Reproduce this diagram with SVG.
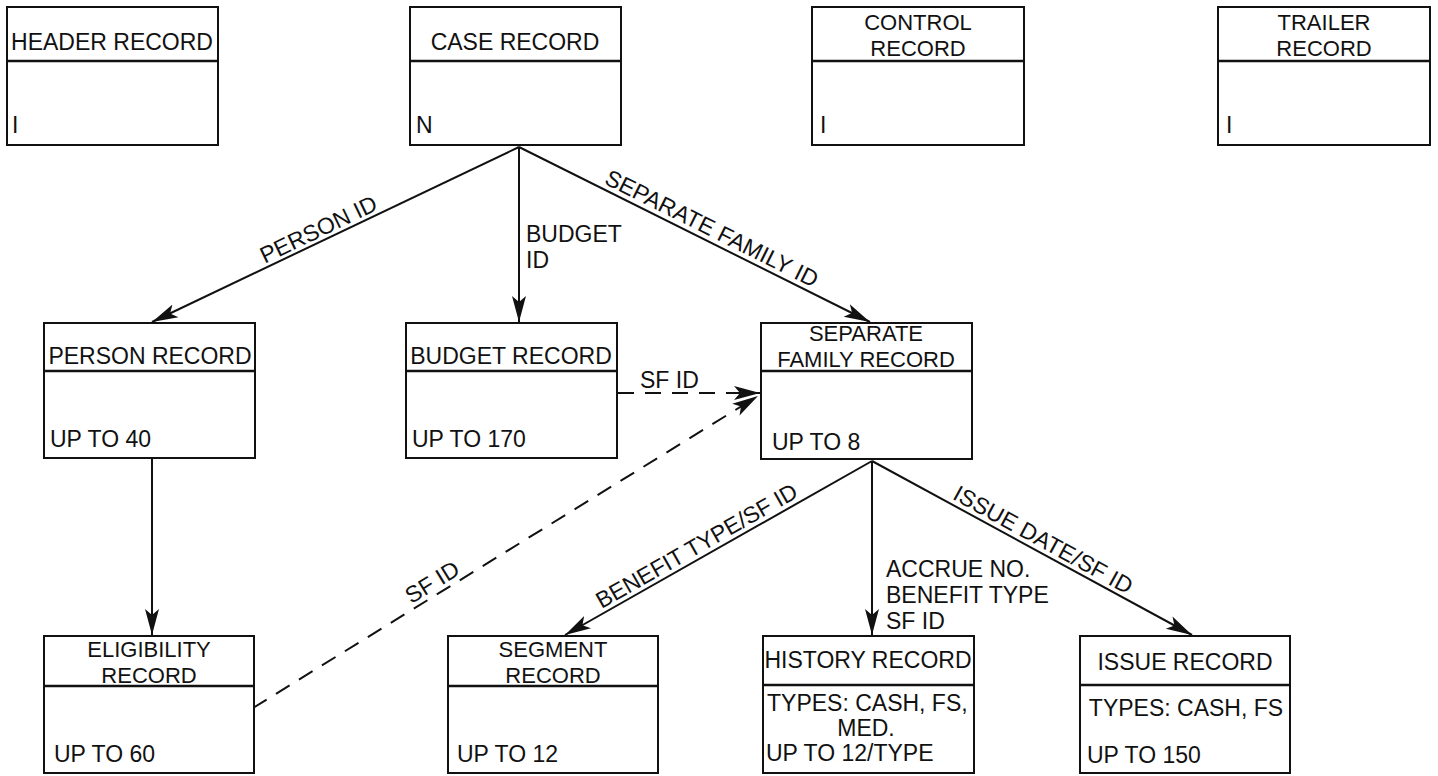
<svg xmlns="http://www.w3.org/2000/svg" width="1438" height="776" viewBox="0 0 1438 776">
<style>
  .box{fill:#fff;stroke:#111;stroke-width:2}
  .div{stroke:#111;stroke-width:2.5}
  text{font-family:"Liberation Sans",Arial,sans-serif;font-size:23px;fill:#111}
  .c{text-anchor:middle}
  .t2{font-size:22px}
  .ln{stroke:#111;stroke-width:2;fill:none}
  .dash{stroke:#111;stroke-width:2;fill:none;stroke-dasharray:16 11}
</style>
<defs>
  <marker id="ah" markerUnits="userSpaceOnUse" markerWidth="28" markerHeight="16" refX="26" refY="8" orient="auto">
    <path d="M0,1 L26,8 L0,15 L6,8 z" fill="#111"/>
  </marker>
</defs>
<rect width="1438" height="776" fill="#fff"/>

<g id="connectors">
  <line class="ln" x1="519" y1="147" x2="152" y2="322" marker-end="url(#ah)"/>
  <line class="ln" x1="519" y1="147" x2="519" y2="322" marker-end="url(#ah)"/>
  <line class="ln" x1="519" y1="147" x2="870" y2="322" marker-end="url(#ah)"/>
  <line class="ln" x1="152" y1="459" x2="152" y2="635" marker-end="url(#ah)"/>
  <line class="dash" x1="618" y1="393" x2="760" y2="393" marker-end="url(#ah)"/>
  <line class="dash" x1="253" y1="708" x2="758" y2="396" marker-end="url(#ah)"/>
  <line class="ln" x1="872" y1="461" x2="565" y2="635" marker-end="url(#ah)"/>
  <line class="ln" x1="872" y1="461" x2="872" y2="635" marker-end="url(#ah)"/>
  <line class="ln" x1="872" y1="461" x2="1192" y2="635" marker-end="url(#ah)"/>
  <text transform="translate(324,241) rotate(-25.6)" class="c" y="-5">PERSON ID</text>
  <text x="526" y="242">BUDGET</text>
  <text x="526" y="268">ID</text>
  <text transform="translate(706,240) rotate(26.5)" class="c" y="-5">SEPARATE FAMILY ID</text>
  <text x="640" y="388">SF ID</text>
  <text transform="translate(439,593) rotate(-31.7)" class="c" y="-5">SF ID</text>
  <text transform="translate(703,557) rotate(-29.7)" class="c" y="-5">BENEFIT TYPE/SF ID</text>
  <text transform="translate(1037,551) rotate(28.7)" class="c" y="-5">ISSUE DATE/SF ID</text>
  <text x="886" y="577">ACCRUE NO.</text>
  <text x="886" y="603">BENEFIT TYPE</text>
  <text x="886" y="629">SF ID</text>
</g>

<g id="header">
  <rect class="box" x="7" y="7" width="211" height="138"/>
  <line class="div" x1="7" y1="61" x2="218" y2="61"/>
  <text class="c" x="112" y="50">HEADER RECORD</text>
  <text x="12" y="133">I</text>
</g>
<g id="case">
  <rect class="box" x="410" y="7" width="211" height="138"/>
  <line class="div" x1="410" y1="61" x2="621" y2="61"/>
  <text class="c" x="515" y="50">CASE RECORD</text>
  <text x="416" y="133">N</text>
</g>
<g id="control">
  <rect class="box" x="812" y="7" width="212" height="138"/>
  <line class="div" x1="812" y1="61" x2="1024" y2="61"/>
  <text class="c t2" x="918" y="30">CONTROL</text>
  <text class="c t2" x="918" y="56">RECORD</text>
  <text x="820" y="133">I</text>
</g>
<g id="trailer">
  <rect class="box" x="1218" y="7" width="212" height="138"/>
  <line class="div" x1="1218" y1="61" x2="1430" y2="61"/>
  <text class="c t2" x="1324" y="30">TRAILER</text>
  <text class="c t2" x="1324" y="56">RECORD</text>
  <text x="1226" y="133">I</text>
</g>

<g id="person">
  <rect class="box" x="44" y="323" width="211" height="135"/>
  <line class="div" x1="44" y1="371" x2="255" y2="371"/>
  <text class="c" x="150" y="364">PERSON RECORD</text>
  <text x="50" y="447">UP TO 40</text>
</g>
<g id="budget">
  <rect class="box" x="406" y="323" width="211" height="135"/>
  <line class="div" x1="406" y1="371" x2="617" y2="371"/>
  <text class="c" x="511" y="364">BUDGET RECORD</text>
  <text x="412" y="447">UP TO 170</text>
</g>
<g id="separate-family">
  <rect class="box" x="761" y="323" width="211" height="136"/>
  <line class="div" x1="761" y1="371" x2="972" y2="371"/>
  <text class="c t2" x="866" y="341">SEPARATE</text>
  <text class="c t2" x="866" y="367">FAMILY RECORD</text>
  <text x="772" y="450">UP TO 8</text>
</g>

<g id="eligibility">
  <rect class="box" x="44" y="636" width="210" height="137"/>
  <line class="div" x1="44" y1="686" x2="254" y2="686"/>
  <text class="c t2" x="149" y="657">ELIGIBILITY</text>
  <text class="c t2" x="149" y="683">RECORD</text>
  <text x="54" y="762">UP TO 60</text>
</g>
<g id="segment">
  <rect class="box" x="448" y="636" width="210" height="137"/>
  <line class="div" x1="448" y1="686" x2="658" y2="686"/>
  <text class="c t2" x="553" y="657">SEGMENT</text>
  <text class="c t2" x="553" y="683">RECORD</text>
  <text x="457" y="762">UP TO 12</text>
</g>
<g id="history">
  <rect class="box" x="763" y="636" width="211" height="137"/>
  <line class="div" x1="763" y1="685" x2="974" y2="685"/>
  <text class="c" x="868" y="668">HISTORY RECORD</text>
  <text x="767" y="711">TYPES:  CASH, FS,</text>
  <text class="c" x="866" y="736">MED.</text>
  <text x="766" y="761">UP TO 12/TYPE</text>
</g>
<g id="issue">
  <rect class="box" x="1080" y="636" width="210" height="137"/>
  <line class="div" x1="1080" y1="685" x2="1290" y2="685"/>
  <text class="c" x="1185" y="670">ISSUE RECORD</text>
  <text class="c" x="1186" y="716">TYPES: CASH, FS</text>
  <text x="1087" y="763">UP TO 150</text>
</g>
</svg>
